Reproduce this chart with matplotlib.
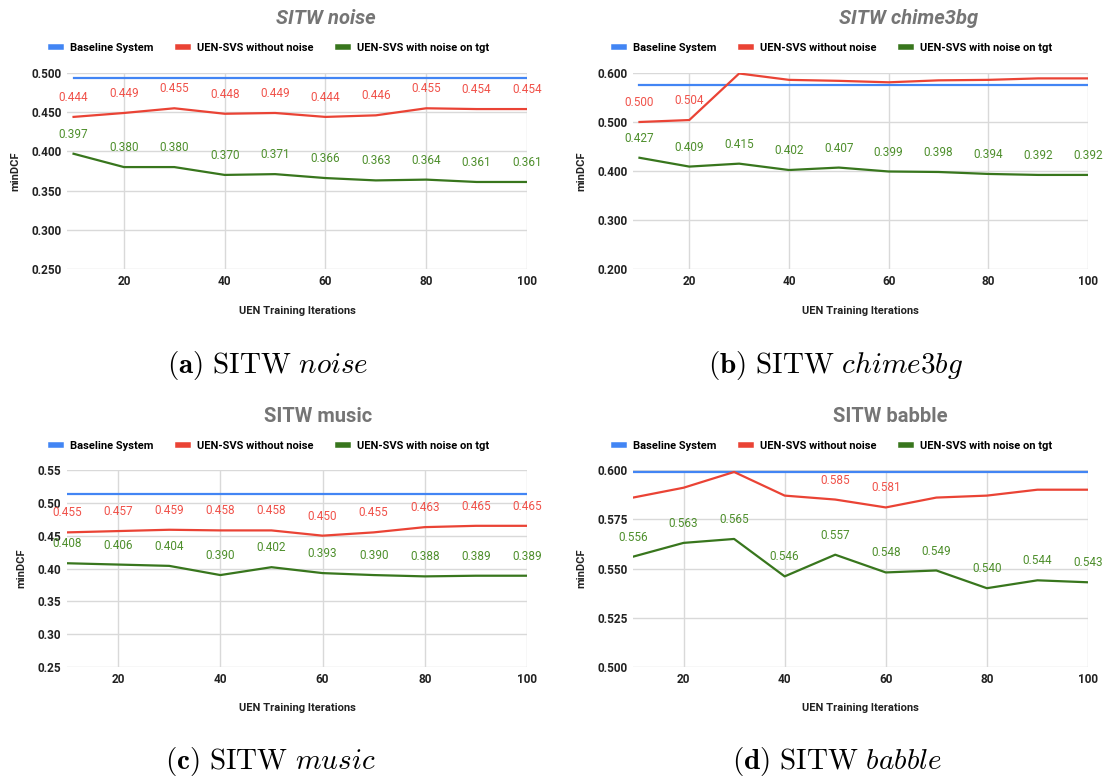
import numpy as np
import matplotlib
matplotlib.use('Agg')
import matplotlib.pyplot as plt
from matplotlib.lines import Line2D

plt.rcParams['font.family'] = ['Roboto', 'DejaVu Sans']
plt.rcParams['mathtext.fontset'] = 'cm'

iters = [10, 20, 30, 40, 50, 60, 70, 80, 90, 100]
legend_names = ['Baseline System', 'UEN-SVS without noise', 'UEN-SVS with noise on tgt']

# SITW noise
noise_base = 0.494
noise_red = [0.444, 0.449, 0.455, 0.448, 0.449, 0.444, 0.446, 0.455, 0.454, 0.454]
noise_green = [0.397, 0.380, 0.380, 0.370, 0.371, 0.366, 0.363, 0.364, 0.361, 0.361]

# SITW chime3bg
chime_base = 0.5755
chime_red = [0.500, 0.504, 0.599, 0.586, 0.584, 0.581, 0.585, 0.586, 0.589, 0.589]
chime_green = [0.427, 0.409, 0.415, 0.402, 0.407, 0.399, 0.398, 0.394, 0.392, 0.392]
chime_red_labeled = [10, 20]

# SITW music
music_base = 0.513
music_red = [0.455, 0.457, 0.459, 0.458, 0.458, 0.450, 0.455, 0.463, 0.465, 0.465]
music_green = [0.408, 0.406, 0.404, 0.390, 0.402, 0.393, 0.390, 0.388, 0.389, 0.389]

# SITW babble
babble_base = 0.599
babble_red = [0.586, 0.591, 0.599, 0.587, 0.585, 0.581, 0.586, 0.587, 0.590, 0.590]
babble_green = [0.556, 0.563, 0.565, 0.546, 0.557, 0.548, 0.549, 0.540, 0.544, 0.543]
babble_red_labeled = [50, 60]

BLUE = '#4285f4'
RED = '#ea4335'
GREEN = '#38761d'
RED_TXT = '#f0524a'
GREEN_TXT = '#4e8f2c'
GRAY = '#757575'

fig = plt.figure(figsize=(11.13, 7.78), dpi=100)
W, H = 1113, 778


def panel(px_box, xmin, base, red, green, ylim, yticks, fmt, title, title_style,
          title_x, legend_x, top_y, xlabel_y, caption, caption_x, caption_y,
          red_labeled=None):
    l, t, r, b = px_box
    ax = fig.add_axes([l / W, 1 - b / H, (r - l) / W, (b - t) / H])
    ax.plot([iters[0], iters[-1]], [base, base], color=BLUE, lw=1.6)
    ax.plot(iters, red, color=RED, lw=1.6)
    ax.plot(iters, green, color=GREEN, lw=1.6)
    for x, v in zip(iters, red):
        if red_labeled is None or x in red_labeled:
            ax.annotate(f'{v:.3f}', (x, v), xytext=(0, 14), textcoords='offset points',
                        ha='center', va='center', fontsize=8.5, color=RED_TXT,
                        annotation_clip=False)
    for x, v in zip(iters, green):
        ax.annotate(f'{v:.3f}', (x, v), xytext=(0, 14), textcoords='offset points',
                    ha='center', va='center', fontsize=8.5, color=GREEN_TXT,
                    annotation_clip=False)
    ax.set_xlim(xmin, 100)
    ax.set_ylim(*ylim)
    ax.set_xticks([20, 40, 60, 80, 100])
    ax.set_yticks(yticks)
    ax.set_yticklabels([fmt.format(v) for v in yticks])
    ax.grid(True, color='#d9d9d9', lw=1)
    ax.set_axisbelow(True)
    for s in ax.spines.values():
        s.set_visible(False)
    ax.tick_params(length=0, labelsize=8.5, colors='#222222', pad=4)
    for lab in ax.get_xticklabels() + ax.get_yticklabels():
        lab.set_fontweight('bold')
    ax.set_ylabel('minDCF', fontsize=8, fontweight='bold', color='#222222', labelpad=8)
    fig.text((l + r) / 2 / W, 1 - xlabel_y / H, 'UEN Training Iterations',
             ha='center', va='center', fontsize=8, fontweight='bold', color='#222222')
    fig.text(title_x / W, 1 - (top_y - 29) / H, title, ha='center', va='center',
             fontsize=14.5, fontweight='bold', style=title_style, color=GRAY)
    handles = [Line2D([], [], color=c, lw=4) for c in (BLUE, RED, GREEN)]
    fig.legend(handles, legend_names, loc='center', ncol=3, frameon=False,
               bbox_to_anchor=(legend_x / W, 1 - top_y / H),
               prop={'weight': 'bold', 'size': 8}, handlelength=0.9,
               columnspacing=2.2, handletextpad=0.8)
    fig.text(caption_x / W, 1 - caption_y / H, caption, ha='center', va='center',
             fontsize=21)
    return ax


panel((67, 73, 527, 269), 8.7, noise_base, noise_red, noise_green, (0.25, 0.5),
      [0.25, 0.30, 0.35, 0.40, 0.45, 0.50], '{:.3f}', 'SITW noise', 'italic',
      326, 270, 48, 311, r'$\mathbf{(a)}\ \mathrm{SITW}\ \mathit{noise}$', 268, 366)
panel((633, 73, 1088, 269), 8.7, chime_base, chime_red, chime_green, (0.2, 0.6),
      [0.2, 0.3, 0.4, 0.5, 0.6], '{:.3f}', 'SITW chime3bg', 'italic',
      909, 833, 48, 311, r'$\mathbf{(b)}\ \mathrm{SITW}\ \mathit{chime3bg}$', 836, 366,
      red_labeled=chime_red_labeled)
panel((67, 470, 527, 667), 10, music_base, music_red, music_green, (0.25, 0.55),
      [0.25, 0.30, 0.35, 0.40, 0.45, 0.50, 0.55], '{:.2f}', 'SITW music', 'normal',
      318, 270, 446, 708, r'$\mathbf{(c)}\ \mathrm{SITW}\ \mathit{music}$', 270, 762)
panel((633, 470, 1088, 667), 10, babble_base, babble_red, babble_green, (0.5, 0.6),
      [0.5, 0.525, 0.55, 0.575, 0.6], '{:.3f}', 'SITW babble', 'normal',
      890, 833, 446, 708, r'$\mathbf{(d)}\ \mathrm{SITW}\ \mathit{babble}$', 837, 762,
      red_labeled=babble_red_labeled)

fig.savefig('out.png', dpi=100)
